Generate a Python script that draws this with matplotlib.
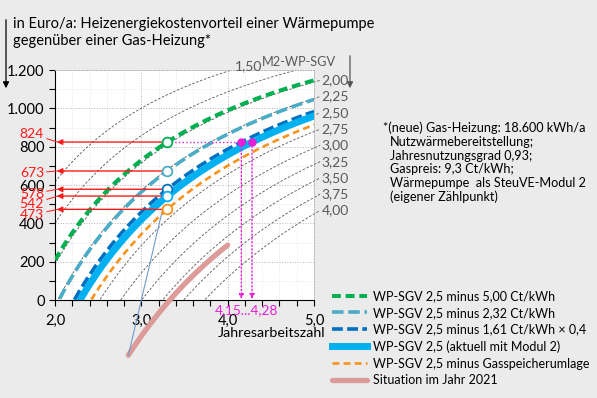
import matplotlib
matplotlib.use('Agg')
import matplotlib.pyplot as plt
from matplotlib.patches import FancyArrowPatch
import numpy as np

# values
heat_demand = 18600          # kWh/a Nutzwärme
gas_cost = 1771              # Euro/a, gas side of the comparison
jaz_marker = 3.3

series_labels = [
    'WP-SGV 2,5 minus 5,00 Ct/kWh',
    'WP-SGV 2,5 minus 2,32 Ct/kWh',
    'WP-SGV 2,5 minus 1,61 Ct/kWh \u00d7 0,4',
    'WP-SGV 2,5 (aktuell mit Modul 2)',
    'WP-SGV 2,5 minus Gasspeicherumlage',
]
series_prices = [0.168, 0.1948, 0.2117, 0.218, 0.2303]   # Euro/kWh WP-Strom
marker_labels = ['824', '673', '578', '542', '473']
marker_label_y = [134, 173, 194, 204, 215]               # px from top

# M2-WP-SGV guide curves: label and electricity price (Euro/kWh)
ratio_labels = ['1,50', '1,75', '2,00', '2,25', '2,50', '2,75', '3,00', '3,25', '3,50', '3,75', '4,00']
ratio_prices = [0.1242, 0.1473, 0.1704, 0.1935, 0.2167, 0.2398, 0.2629,
                0.2860, 0.3092, 0.3323, 0.3554]
ratio_shown = [False, False, True, True, True, True, True, True, True, True, True]

situation_label = 'Situation im Jahr 2021'
situation_base = 1709
situation_price = 0.306
situation_jaz = [2.85, 4.0]

jaz_labels = '4,15...4,28'

colors = ['#00b050', '#4bacc6', '#0070c0', '#00b0f0', '#f7941d']
widths = [2.9, 2.6, 2.6, 5.0, 1.9]
dashes = [(2.2, 1.2), (3.2, 1.3), (3.0, 1.2), None, (2.6, 1.6)]
magenta = '#e81ed8'
red = '#ff1a1a'
gray_txt = '#595959'

plt.rcParams['font.family'] = ['Lato', 'DejaVu Sans']
plt.rcParams['font.size'] = 10.5

W, H = 597, 398
fig = plt.figure(figsize=(W / 100, H / 100), dpi=100, facecolor='#ebebeb')
ax = fig.add_axes([55 / W, 1 - 300 / H, 259 / W, 230 / H])
ax.set_facecolor('white')


def advantage(x, price, base=gas_cost):
    return base - heat_demand * price / x


# guide curves (M2-WP-SGV)
for lab, p, shown in zip(ratio_labels, ratio_prices, ratio_shown):
    xs = np.linspace(2.0, 5.07, 400)
    ys = advantage(xs, p)
    keep = (ys >= 0) & (ys <= 1200)
    ax.plot(xs[keep], ys[keep], color='#555555', lw=0.6, ls=(0, (3, 2)),
            clip_on=False, zorder=2)
    if shown:
        ax.text(5.09, advantage(5.07, p), lab, color=gray_txt,
                ha='left', va='center', fontsize=10)
fig.text(235 / W, 1 - 66 / H, ratio_labels[0], color=gray_txt, ha='left',
         va='center', fontsize=10)
fig.text(336 / W, 1 - 62 / H, 'M2-WP-SGV', color=gray_txt, ha='right',
         va='center', fontsize=9.2)

# main curves
xs = np.linspace(2.0, 5.0, 400)
handles = []
for lab, p, c, lw, d in zip(series_labels, series_prices, colors, widths, dashes):
    ys = advantage(xs, p)
    keep = ys >= 0
    line, = ax.plot(xs[keep], ys[keep], color=c, lw=lw, label=lab, zorder=4)
    if d is not None:
        line.set_dashes(d)
    handles.append(line)

# situation 2021
xs21 = np.linspace(situation_jaz[0], situation_jaz[1], 100)
ys21 = advantage(xs21, situation_price, situation_base)
pink, = ax.plot(xs21, ys21, color='#dc9a98', lw=3.8, solid_capstyle='round',
                clip_on=False, zorder=3, label=situation_label)
handles.append(pink)
ax.plot([xs21[0], 3.25], [ys21[0], 480], color='#6f9cc8', lw=0.8,
        clip_on=False, zorder=3)

# markers and red arrows
for p, c, lab, ly in zip(series_prices, colors, marker_labels, marker_label_y):
    v = advantage(jaz_marker, p)
    ax.annotate('', xy=(2.02, v), xytext=(jaz_marker - 0.05, v),
                arrowprops=dict(arrowstyle='-|>', color=red, lw=1.0,
                                mutation_scale=8, shrinkA=0, shrinkB=0),
                zorder=5)
    ax.plot([jaz_marker], [v], 'o', ms=7, mfc='white', mec=c, mew=1.3, zorder=6)
    ax.annotate(lab, xy=(2.03, v), xycoords='data',
                xytext=(44, H - ly), textcoords='figure pixels',
                ha='right', va='center', color=red, fontsize=10,
                arrowprops=dict(arrowstyle='-', color=red, lw=0.7,
                                shrinkA=0, shrinkB=0))

# magenta construction
target = advantage(jaz_marker, series_prices[0])
jaz_hits = [heat_demand * p / (gas_cost - target) for p in series_prices[2:4]]
ax.plot([jaz_marker + 0.04, jaz_hits[1]], [target, target], color=magenta,
        lw=1.0, ls=':', zorder=5)
for xh in jaz_hits:
    ax.plot([xh], [target], 'o', ms=5, color=magenta, zorder=7)
    ax.annotate('', xy=(xh, 5), xytext=(xh, target),
                arrowprops=dict(arrowstyle='-|>', color=magenta, lw=1.0, ls=':',
                                mutation_scale=7, shrinkA=0, shrinkB=0), zorder=5)
ax.text(np.mean(jaz_hits), -20, jaz_labels, color=magenta, ha='center',
        va='top', fontsize=9.8)

# axes
ax.set_xlim(2.0, 5.0)
ax.set_ylim(0, 1200)
ax.set_xticks([2, 3, 4, 5])
ax.set_xticks(np.arange(2.0, 5.01, 0.2), minor=True)
ax.set_xticklabels(['2,0', '3,0', '4,0', '5,0'])
ax.set_yticks(np.arange(0, 1201, 200))
ax.set_yticks(np.arange(0, 1201, 100), minor=True)
ax.set_yticklabels(['0', '200', '400', '600', '800', '1.000', '1.200'])
ax.tick_params(which='both', direction='out', length=4, width=0.8, colors='black',
               labelsize=10.5)
ax.tick_params(axis='x', pad=6)
ax.grid(which='major', color='#b5b5b5', lw=0.7, ls=':')
ax.grid(which='minor', color='#e2e2e2', lw=0.6, ls=':')
for s in ['top', 'right']:
    ax.spines[s].set_color('#b5b5b5')
    ax.spines[s].set_linestyle(':')
    ax.spines[s].set_linewidth(0.7)
ax.set_axisbelow(True)

fig.text(325 / W, 1 - 333 / H, 'Jahresarbeitszahl', ha='right', va='center',
         fontsize=10.3)

# title and arrows
fig.text(13 / W, 1 - 24 / H, 'in Euro/a: Heizenergiekostenvorteil einer Wärmepumpe',
         ha='left', va='center', fontsize=10.5)
fig.text(13 / W, 1 - 41 / H, 'gegenüber einer Gas-Heizung*',
         ha='left', va='center', fontsize=10.5)
fig.patches.append(FancyArrowPatch((6, H - 17), (6, H - 91), transform=None,
                                   arrowstyle='-|>', mutation_scale=9,
                                   color='black', lw=0.9))
fig.patches.append(FancyArrowPatch((350, H - 53), (350, H - 91), transform=None,
                                   arrowstyle='-|>', mutation_scale=9,
                                   color='#555555', lw=0.9))

# footnote
note = ['*(neue) Gas-Heizung: 18.600 kWh/a', 'Nutzwärmebereitstellung;',
        'Jahresnutzungsgrad 0,93;', 'Gaspreis: 9,3 Ct/kWh;',
        'Wärmepumpe  als SteuVE-Modul 2', '(eigener Zählpunkt)']
for i, t in enumerate(note):
    fig.text((383 if i == 0 else 390) / W, 1 - (128 + i * 13.8) / H, t,
             ha='left', va='center', fontsize=9.1)

fig.legend(handles=handles, loc='upper left', bbox_to_anchor=(332 / W, 1 - 290 / H),
           frameon=False, fontsize=9.0, handlelength=2.8, handletextpad=0.45,
           labelspacing=0.38, borderaxespad=0, borderpad=0)

fig.savefig('out.png', dpi=100, facecolor=fig.get_facecolor())
